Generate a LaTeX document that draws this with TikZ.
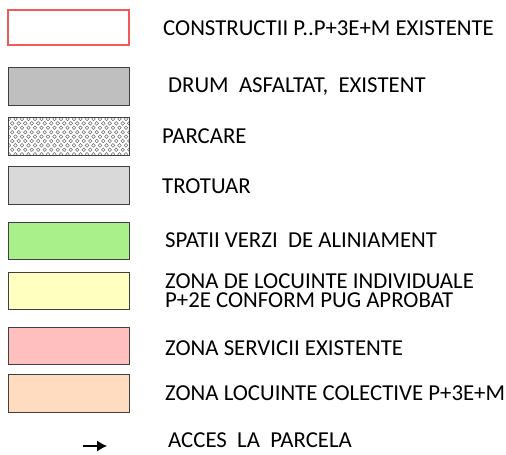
\documentclass[tikz,border=0pt]{standalone}
\usepackage{fontspec}
\setmainfont{Carlito}
\usetikzlibrary{arrows.meta}
\definecolor{redline}{HTML}{F25A5A}
\definecolor{edge}{HTML}{404040}
\definecolor{road}{HTML}{BFBFBF}
\definecolor{walk}{HTML}{D9D9D9}
\definecolor{green}{HTML}{A9F08A}
\definecolor{yellowz}{HTML}{FFFFC0}
\definecolor{pinkz}{HTML}{FFBFBF}
\definecolor{peachz}{HTML}{FFDCC0}
\definecolor{dotc}{HTML}{707070}
\tikzset{
  key/.style={draw=edge, line width=1pt, minimum width=121pt, minimum height=37pt, inner sep=0pt, outer sep=0pt, anchor=north west},
  lbl/.style={anchor=west, inner sep=0pt, font=\fontsize{22.8}{19}\selectfont, align=left, text=black}
}
\begin{document}
\begin{tikzpicture}[x=1pt,y=-1pt]
\useasboundingbox (0,0) rectangle (506,455);
\node[key, draw=redline, line width=1.4pt, fill=white, minimum height=35pt] (b1) at (8,10) {};
\node[key, fill=road, minimum height=38pt] (b2) at (8,67) {};
\node[key, fill=white, minimum height=38pt] (b3) at (8,117) {};
\begin{scope}
\clip (8,117) rectangle (129,155);
\foreach \r in {0,...,8} {
  \foreach \c in {0,...,18} {
    \pgfmathsetmacro{\xx}{9+\c*6.5+mod(\r,2)*3.25}
    \pgfmathsetmacro{\yy}{119+\r*4.4}
    \draw[dotc, line width=0.55pt] (\xx,\yy) circle (1.8);
  }
}
\end{scope}
\draw[edge, line width=1pt] (8,117) rectangle (129,155);
\node[key, fill=walk, minimum height=38pt] (b4) at (8,166) {};
\node[key, fill=green] (b5) at (8,222) {};
\node[key, fill=yellowz] (b6) at (8,272) {};
\node[key, fill=pinkz] (b7) at (8,327) {};
\node[key, fill=peachz, minimum height=38pt] (b8) at (8,374) {};
\coordinate (a1) at (83,446);
\coordinate (a2) at (107,446);
\draw[line width=1.2pt, -{Latex[length=10pt,width=11pt]}] (a1) -- (a2);

\node[lbl] (t1) at (163,28) {CONSTRUCTII P..P+3E+M EXISTENTE};
\node[lbl] (t2) at (168,87) {DRUM\ \ ASFALTAT,\ \ EXISTENT};
\node[lbl] (t3) at (162,136) {PARCARE};
\node[lbl] (t4) at (162,186) {TROTUAR};
\node[lbl] (t5) at (165,240) {SPATII VERZI\ \ DE ALINIAMENT};
\node[lbl] (t6) at (165,291) {ZONA DE LOCUINTE INDIVIDUALE\\P+2E CONFORM PUG APROBAT};
\node[lbl] (t7) at (165,348) {ZONA SERVICII EXISTENTE};
\node[lbl] (t8) at (165,393) {ZONA LOCUINTE COLECTIVE P+3E+M};
\node[lbl] (t9) at (168,440) {ACCES\ \ LA\ \ PARCELA};
\end{tikzpicture}
\end{document}
